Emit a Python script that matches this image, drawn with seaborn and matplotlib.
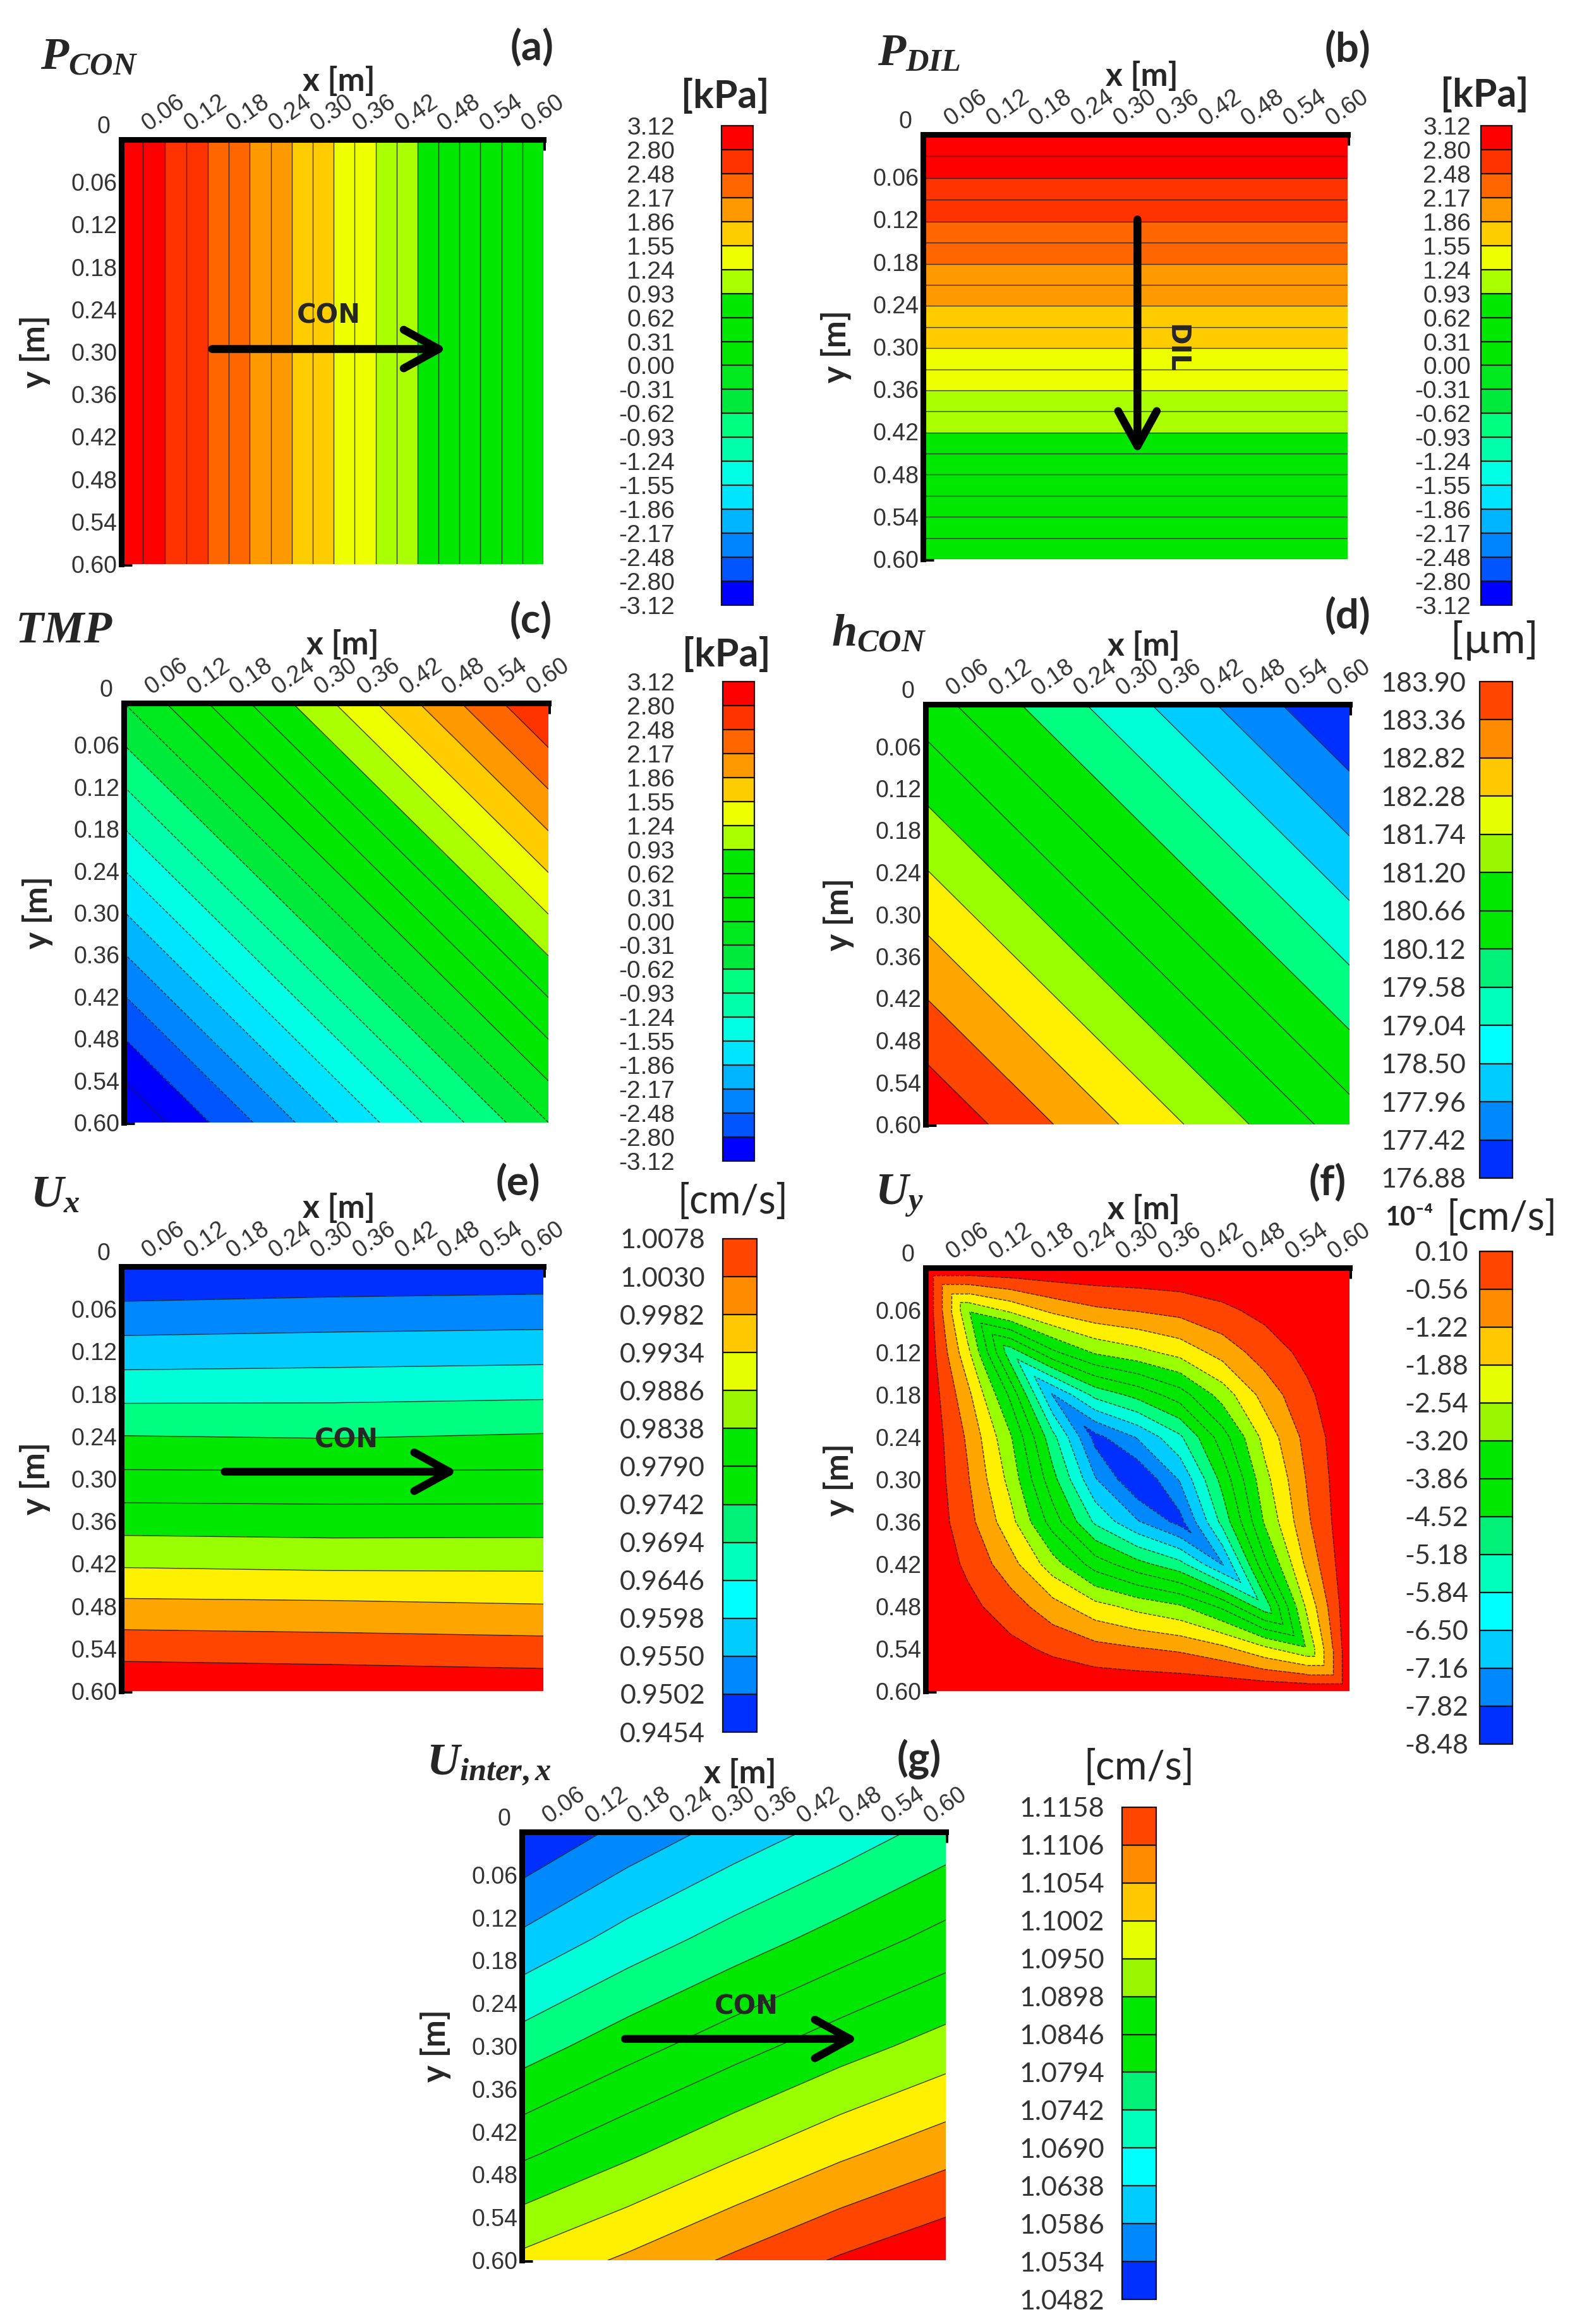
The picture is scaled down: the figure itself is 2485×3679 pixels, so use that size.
import numpy as np
import matplotlib
matplotlib.use("Agg")
import matplotlib.pyplot as plt
import matplotlib.tri as mtri
from matplotlib.colors import ListedColormap, BoundaryNorm
from matplotlib.cm import ScalarMappable
import seaborn as sns

sns.set_style("white")
plt.rcParams["font.family"] = ["Liberation Sans", "DejaVu Sans"]
plt.rcParams["mathtext.fontset"] = "custom"
plt.rcParams["mathtext.it"] = "Liberation Serif:italic:bold"
plt.rcParams["mathtext.rm"] = "Liberation Serif:bold"
plt.rcParams["mathtext.bf"] = "Liberation Serif:bold"

W, H = 2485, 3679

# ---------------- data ----------------
ticks_m = [0.00, 0.06, 0.12, 0.18, 0.24, 0.30, 0.36, 0.42, 0.48, 0.54, 0.60]
edge_m = [0.0, 0.6]

kpa_levels = [-3.12, -2.80, -2.48, -2.17, -1.86, -1.55, -1.24, -0.93, -0.62, -0.31,
              0.00, 0.31, 0.62, 0.93, 1.24, 1.55, 1.86, 2.17, 2.48, 2.80, 3.12]
h_levels = [176.88, 177.42, 177.96, 178.50, 179.04, 179.58, 180.12,
            180.66, 181.20, 181.74, 182.28, 182.82, 183.36, 183.90]
ux_levels = [0.9454, 0.9502, 0.9550, 0.9598, 0.9646, 0.9694, 0.9742,
             0.9790, 0.9838, 0.9886, 0.9934, 0.9982, 1.0030, 1.0078]
uy_levels = [-8.48, -7.82, -7.16, -6.50, -5.84, -5.18, -4.52,
             -3.86, -3.20, -2.54, -1.88, -1.22, -0.56, 0.10]
ui_levels = [1.0482, 1.0534, 1.0586, 1.0638, 1.0690, 1.0742, 1.0794,
             1.0846, 1.0898, 1.0950, 1.1002, 1.1054, 1.1106, 1.1158]

# corner values, rows y = 0 / 0.6, cols x = 0 / 0.6
p_con = [[3.12, 0.00], [3.12, 0.00]]
p_dil = [[3.12, 3.12], [0.00, 0.00]]
tmp = [[-0.31, 2.81], [-3.43, -0.31]]
h_con = [[180.37, 176.86], [183.88, 180.37]]

# U_x, rows y = ticks_m, cols x = 0 / 0.3 / 0.6
ux_x = [0.0, 0.3, 0.6]
u_x = [[0.9452, 0.9459, 0.9465],
       [0.9513, 0.9519, 0.9522],
       [0.9572, 0.9576, 0.9580],
       [0.9632, 0.9634, 0.9638],
       [0.9695, 0.9691, 0.9698],
       [0.9755, 0.9754, 0.9754],
       [0.9817, 0.9814, 0.9815],
       [0.9880, 0.9875, 0.9875],
       [0.9946, 0.9943, 0.9937],
       [1.0011, 1.0006, 1.0001],
       [1.0074, 1.0070, 1.0063]]

# U_y [1e-4 cm/s], rows y = ticks_m, cols x = ticks_m
u_y = [[0, 0, 0, 0, 0, 0, 0, 0, 0, 0, 0],
       [0, -3.10, -2.38, -1.70, -1.33, -1.17, -0.99, -0.69, -0.38, -0.16, 0],
       [0, -2.38, -5.59, -4.00, -3.12, -2.75, -2.31, -1.62, -0.90, -0.38, 0],
       [0, -1.70, -4.00, -7.20, -5.63, -4.96, -4.17, -2.91, -1.62, -0.69, 0],
       [0, -1.33, -3.12, -5.63, -8.05, -7.10, -5.96, -4.17, -2.31, -0.99, 0],
       [0, -1.17, -2.75, -4.96, -7.10, -8.45, -7.10, -4.96, -2.75, -1.17, 0],
       [0, -0.99, -2.31, -4.17, -5.96, -7.10, -8.05, -5.63, -3.12, -1.33, 0],
       [0, -0.69, -1.62, -2.91, -4.17, -4.96, -5.63, -7.20, -4.00, -1.70, 0],
       [0, -0.38, -0.90, -1.62, -2.31, -2.75, -3.12, -4.00, -5.59, -2.38, 0],
       [0, -0.16, -0.38, -0.69, -0.99, -1.17, -1.33, -1.70, -2.38, -3.10, 0],
       [0, 0, 0, 0, 0, 0, 0, 0, 0, 0, 0]]

# U_inter,x, rows/cols at 0, 0.15, 0.30, 0.45, 0.60
ui_x = [0.0, 0.15, 0.30, 0.45, 0.60]
u_inter = [[1.0484, 1.0550, 1.0606, 1.0657, 1.0711],
           [1.0597, 1.0659, 1.0713, 1.0763, 1.0812],
           [1.0716, 1.0773, 1.0825, 1.0875, 1.0920],
           [1.0836, 1.0889, 1.0942, 1.0992, 1.1036],
           [1.0963, 1.1011, 1.1063, 1.1112, 1.1153]]

# ---------------- colours ----------------
kpa_colors = sns.color_palette(
    ["#0000FF", "#0055FF", "#0085FF", "#00B5FF", "#00E5FF", "#00FFE5", "#00FFAA",
     "#00FF80", "#00EA3C", "#00E81E", "#00E800", "#00E800", "#00E800", "#AAFF00",
     "#EEFF00", "#FFCC00", "#FF9900", "#FF6600", "#FF3300", "#FF0000"])
fill13 = sns.color_palette(
    ["#0030FF", "#0088FF", "#00CCFF", "#00FFD8", "#00FF80", "#00E800", "#00E800",
     "#00E800", "#99FF00", "#FFF000", "#FFA500", "#FF4500", "#FF0000"])
bar13 = sns.color_palette(
    ["#0030FF", "#0088FF", "#00CCFF", "#00FFFF", "#00FFBB", "#00F078", "#00E800",
     "#00E800", "#99F500", "#E6FF00", "#FFC800", "#FF8C00", "#FF4500"])

fig = plt.figure(figsize=(W / 100, H / 100), dpi=100)


def px_rect(x0, y0, x1, y1):
    return [x0 / W, 1 - y1 / H, (x1 - x0) / W, (y1 - y0) / H]


def ftext(x, y, s, **kw):
    fig.text(x / W, 1 - y / H, s, **kw)


LATO = ["Lato", "DejaVu Sans"]
LINE_KW = dict(colors="#1e1e1e", linewidths=1.0, alpha=0.85)


def field(rect, x, y, z, levels, colors, line_levels, diag_tri=None):
    ax = fig.add_axes(px_rect(*rect))
    cmap = ListedColormap(colors)
    cmap.set_under(colors[0])
    cmap.set_over(colors[-1])
    norm = BoundaryNorm(levels, cmap.N)
    z = np.asarray(z, dtype=float)
    ax.contourf(x, y, z, levels=levels, cmap=cmap, norm=norm, extend="both", zorder=1)
    ax.contour(x, y, z, levels=line_levels, zorder=1.2, **LINE_KW)
    if diag_tri is not None:
        # cells on the main diagonal are split along it so the lens tips stay pointed
        ax.tricontourf(diag_tri, z.ravel(), levels=levels, cmap=cmap, norm=norm,
                       extend="both", zorder=1.5)
        ax.tricontour(diag_tri, z.ravel(), levels=line_levels, zorder=1.8, **LINE_KW)

    x0, y0, x1, y1 = rect
    ax.set_xlim(0, 0.6)
    ax.set_ylim(0.6, 0)
    sns.despine(ax=ax, top=False, right=True, left=False, bottom=True)
    ax.xaxis.set_ticks_position("top")
    ax.yaxis.set_ticks_position("left")
    labels = ["" if t == 0 else f"{t:.2f}" for t in ticks_m]
    ax.set_xticks(ticks_m)
    ax.set_xticklabels(labels, rotation=35, ha="center")
    ax.set_yticks(ticks_m)
    ax.set_yticklabels(labels)
    ax.tick_params(direction="in", length=12, width=5, color="black",
                   labelsize=27, labelcolor="#333333", pad=5)
    for s in ("top", "left"):
        ax.spines[s].set_linewidth(6.5)
        ax.spines[s].set_color("black")
    ftext(x0 - 28, y0 - 20, "0", fontsize=27, color="#333333", ha="center", va="center")
    ftext((x0 + x1) / 2 + 10, y0 - 92, "x [m]", fontsize=37, fontweight="bold",
          family=LATO, ha="center", va="center")
    ftext(x0 - 137, (y0 + y1) / 2, "y [m]", fontsize=37, fontweight="bold",
          family=LATO, ha="center", va="center", rotation=90)
    return ax


def cbar(rect, levels, colors, fmt, gap_px, family, size):
    cax = fig.add_axes(px_rect(*rect))
    cmap = ListedColormap(colors)
    norm = BoundaryNorm(levels, cmap.N)
    cb = fig.colorbar(ScalarMappable(norm=norm, cmap=cmap), cax=cax, drawedges=True)
    cb.set_ticks(levels, labels=[fmt.format(v) for v in levels])
    cb.outline.set_linewidth(1.6)
    cb.outline.set_edgecolor("#111111")
    cb.dividers.set_color("#111111")
    cb.dividers.set_linewidth(1.6)
    cax.yaxis.set_ticks_position("left")
    cax.tick_params(length=0, pad=gap_px / 1.389, labelsize=size,
                    labelcolor="#333333", labelfontfamily=family)
    return cax


def flow_arrow(ax, start, end):
    ax.annotate("", xy=end, xytext=start,
                arrowprops=dict(arrowstyle="->,head_length=1.0,head_width=0.55", lw=9,
                                color="black", shrinkA=0, shrinkB=0, mutation_scale=40,
                                capstyle="round", joinstyle="round"))


def flow_label(ax, x, y, s, rotation=0):
    ax.text(x, y, s, fontsize=30, fontweight="bold", family=["DejaVu Sans"],
            ha="center", va="center", rotation=rotation)


kpa_lines = np.sort(np.concatenate([kpa_levels,
                                    (np.array(kpa_levels[:-1]) + np.array(kpa_levels[1:])) / 2]))

# (a) P_CON
ax = field((192, 221, 860, 893), edge_m, edge_m, p_con, kpa_levels, kpa_colors, kpa_lines)
flow_arrow(ax, (0.129, 0.296), (0.463, 0.296))
flow_label(ax, 0.295, 0.249, "CON")
cbar((1142, 199, 1192, 958), kpa_levels, kpa_colors, "{:.2f}", 74, ["Liberation Sans"], 28)

# (b) P_DIL
ax = field((1461, 213, 2133, 885), edge_m, edge_m, p_dil, kpa_levels, kpa_colors, kpa_lines)
flow_arrow(ax, (0.303, 0.12), (0.303, 0.452))
flow_label(ax, 0.358, 0.302, "DIL", rotation=-90)
cbar((2344, 199, 2393, 958), kpa_levels, kpa_colors, "{:.2f}", 16, ["Liberation Sans"], 28)

# (c) TMP
field((196, 1113, 868, 1777), edge_m, edge_m, tmp, kpa_levels, kpa_colors, kpa_levels)
cbar((1144, 1079, 1194, 1838), kpa_levels, kpa_colors, "{:.2f}", 76, ["Liberation Sans"], 28)

# (d) h_CON
field((1465, 1115, 2136, 1780), edge_m, edge_m, h_con, h_levels, fill13, h_levels)
cbar((2342, 1079, 2394, 1865), h_levels, bar13, "{:.2f}", 22, LATO, 31)

# (e) U_x
ax = field((192, 2005, 860, 2677), ux_x, ticks_m, u_x, ux_levels, fill13, ux_levels)
flow_arrow(ax, (0.147, 0.29), (0.478, 0.29))
flow_label(ax, 0.32, 0.245, "CON")
cbar((1144, 1961, 1198, 2742), ux_levels, bar13, "{:.4f}", 28, LATO, 31)

# (f) U_y
gx, gy = np.meshgrid(ticks_m, ticks_m)
n = len(ticks_m)
diag_triangles = []
for k in range(n - 1):
    a, b, c, d = k * n + k, k * n + k + 1, (k + 1) * n + k + 1, (k + 1) * n + k
    diag_triangles += [[a, b, c], [a, c, d]]
diag_tri = mtri.Triangulation(gx.ravel(), gy.ravel(), diag_triangles)
field((1465, 2007, 2136, 2677), ticks_m, ticks_m, u_y, uy_levels, fill13, uy_levels,
      diag_tri=diag_tri)
cbar((2342, 1981, 2394, 2761), uy_levels, bar13, "{:.2f}", 18, LATO, 31)

# (g) U_inter,x
ax = field((826, 2900, 1497, 3578), ui_x, ui_x, u_inter, ui_levels, fill13, ui_levels)
flow_arrow(ax, (0.146, 0.29), (0.476, 0.29))
flow_label(ax, 0.318, 0.245, "CON")
cbar((1776, 2861, 1830, 3640), ui_levels, bar13, "{:.4f}", 28, LATO, 31)

# ---------------- titles, letters, units ----------------
titles = [(64, 110, r"$P_{CON}$"), (1389, 103, r"$P_{DIL}$"), (24, 1017, r"$TMP$"),
          (1316, 1023, r"$h_{CON}$"), (48, 1910, r"$U_x$"), (1385, 1907, r"$U_y$"),
          (675, 2810, r"$U_{inter,x}$")]
for x, y, s in titles:
    ftext(x, y, s, fontsize=52, ha="left", va="baseline")

letters = [(842, 75, "(a)"), (2133, 78, "(b)"), (840, 982, "(c)"), (2133, 975, "(d)"),
           (820, 1872, "(e)"), (2101, 1872, "(f)"), (1455, 2785, "(g)")]
for x, y, s in letters:
    ftext(x, y, s, fontsize=47, fontweight="bold", family=LATO, ha="center", va="center")

for x, y in [(1148, 152), (2350, 150), (1150, 1036)]:
    ftext(x, y, "[kPa]", fontsize=44, fontweight="bold", family=LATO, ha="center", va="center")
ftext(2366, 1014, "[µm]", fontsize=48, family=LATO, ha="center", va="center")
ftext(1160, 1902, "[cm/s]", fontsize=45, family=LATO, ha="center", va="center")
ftext(2377, 1928, "[cm/s]", fontsize=45, family=LATO, ha="center", va="center")
ftext(2230, 1928, "10⁻⁴", fontsize=30, fontweight="bold", family=LATO, ha="center", va="center")
ftext(1803, 2798, "[cm/s]", fontsize=45, family=LATO, ha="center", va="center")

fig.savefig("out.png", dpi=100, facecolor="white")
